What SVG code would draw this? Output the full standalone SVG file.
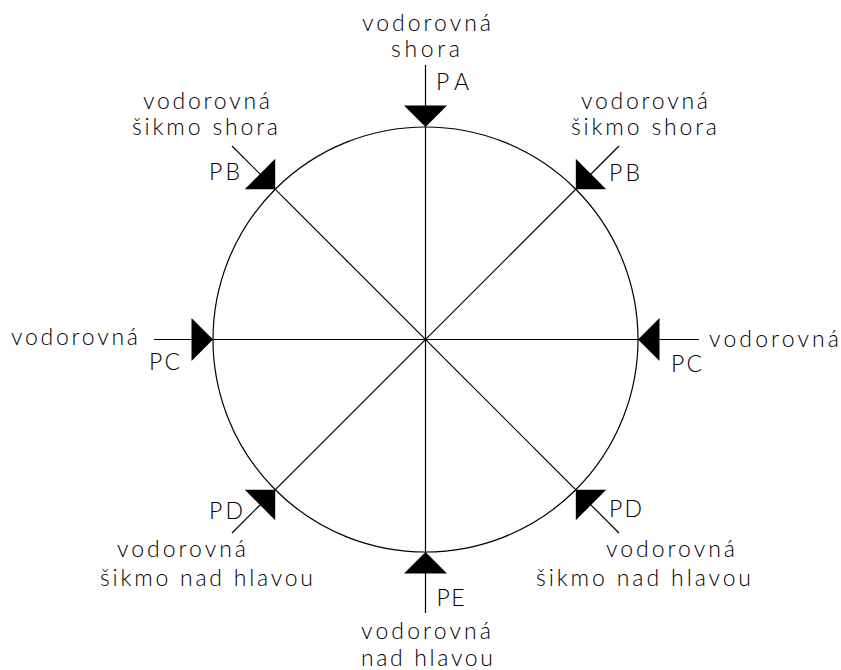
<svg xmlns="http://www.w3.org/2000/svg" width="841" height="670" viewBox="0 0 841 670">
<defs>
<style>
.ln{stroke:#000;stroke-width:1.2;fill:none}
.ar{fill:#000;stroke:none}
text{font-family:"Lato","DejaVu Sans","Liberation Sans",sans-serif;font-weight:300;font-size:23px;fill:#000}
</style>
<path id="tri" d="M0,0 L-21.5,-21.5 L21.5,-21.5 Z"/>
</defs>
<rect width="841" height="670" fill="#fff"/>
<g id="connectors">
<circle class="ln" cx="425.5" cy="339.5" r="212.5"/>
<line class="ln" x1="425.5" y1="65" x2="425.5" y2="613"/>
<line class="ln" x1="154" y1="339.5" x2="699" y2="339.5"/>
<line class="ln" x1="232" y1="146" x2="619" y2="533"/>
<line class="ln" x1="619" y1="146" x2="232" y2="533"/>
</g>
<g id="PA">
<use href="#tri" class="ar" transform="translate(425.5,127)"/>
<text x="362" y="30.5" textLength="129" lengthAdjust="spacing">vodorovná</text>
<text x="391" y="56.5" textLength="69" lengthAdjust="spacing">shora</text>
<text x="436" y="90" textLength="33" lengthAdjust="spacing">PA</text>
</g>
<g id="PB-left">
<use href="#tri" class="ar" transform="translate(275.2,189.2) rotate(-45)"/>
<text x="143" y="109" textLength="127" lengthAdjust="spacing">vodorovná</text>
<text x="132" y="135" textLength="146" lengthAdjust="spacing">šikmo shora</text>
<text x="209" y="180" textLength="31" lengthAdjust="spacing">PB</text>
</g>
<g id="PB-right">
<use href="#tri" class="ar" transform="translate(575.8,189.2) rotate(45)"/>
<text x="581" y="109" textLength="127" lengthAdjust="spacing">vodorovná</text>
<text x="571" y="135" textLength="146" lengthAdjust="spacing">šikmo shora</text>
<text x="609" y="180.5" textLength="31" lengthAdjust="spacing">PB</text>
</g>
<g id="PC-left">
<use href="#tri" class="ar" transform="translate(213,339.5) rotate(-90)"/>
<text x="11" y="345" textLength="127" lengthAdjust="spacing">vodorovná</text>
<text x="149" y="370" textLength="31" lengthAdjust="spacing">PC</text>
</g>
<g id="PC-right">
<use href="#tri" class="ar" transform="translate(638,339.5) rotate(90)"/>
<text x="709" y="347" textLength="130" lengthAdjust="spacing">vodorovná</text>
<text x="671" y="371.5" textLength="31" lengthAdjust="spacing">PC</text>
</g>
<g id="PD-left">
<use href="#tri" class="ar" transform="translate(275.2,489.8) rotate(-135)"/>
<text x="209" y="519" textLength="34" lengthAdjust="spacing">PD</text>
<text x="117" y="557" textLength="129" lengthAdjust="spacing">vodorovná</text>
<text x="100" y="586" textLength="213" lengthAdjust="spacing">šikmo nad hlavou</text>
</g>
<g id="PD-right">
<use href="#tri" class="ar" transform="translate(575.8,489.8) rotate(135)"/>
<text x="609" y="517" textLength="33" lengthAdjust="spacing">PD</text>
<text x="606" y="557" textLength="129" lengthAdjust="spacing">vodorovná</text>
<text x="536" y="586" textLength="215" lengthAdjust="spacing">šikmo nad hlavou</text>
</g>
<g id="PE">
<use href="#tri" class="ar" transform="translate(425.5,552) rotate(180)"/>
<text x="436.5" y="605.5" textLength="28" lengthAdjust="spacing">PE</text>
<text x="361" y="639" textLength="130" lengthAdjust="spacing">vodorovná</text>
<text x="361" y="666" textLength="132" lengthAdjust="spacing">nad hlavou</text>
</g>
</svg>
